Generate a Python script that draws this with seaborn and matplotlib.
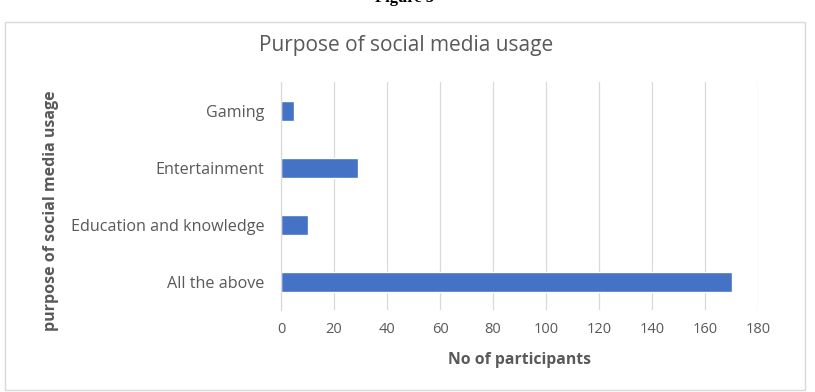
import matplotlib
matplotlib.use("Agg")
import matplotlib.pyplot as plt
import seaborn as sns
import pandas as pd
from matplotlib.patches import Rectangle

categories = ["Gaming", "Entertainment", "Education and knowledge", "All the above"]
participants = [5, 29, 10, 170]
x_ticks = [0, 20, 40, 60, 80, 100, 120, 140, 160, 180]

sns.set_theme(style="white")
plt.rcParams['font.family'] = ['Open Sans', 'DejaVu Sans']

df = pd.DataFrame({"purpose": categories, "n": participants})

fig = plt.figure(figsize=(8.15, 3.92), dpi=100)
ax = fig.add_axes([0.3448, 0.208, 0.5853, 0.5816])

sns.barplot(data=df, y="purpose", x="n", orient="h", color="#4472C4",
            width=0.35, saturation=1, ax=ax)

ax.set_xlim(0, 180)
ax.set_xticks(x_ticks)
ax.set_ylim(3.5, -0.5)
ax.xaxis.grid(True, color="#d9d9d9", linewidth=0.9)
ax.set_axisbelow(True)
for s in ["top", "right", "bottom"]:
    ax.spines[s].set_visible(False)
ax.spines["left"].set_color("#d9d9d9")
ax.spines["left"].set_linewidth(0.9)
ax.tick_params(axis="both", length=0, labelcolor="#595959")
ax.tick_params(axis="x", pad=8, labelsize=10.5)
ax.tick_params(axis="y", pad=12, labelsize=11.6)

ax.set_xlabel("No of participants", fontsize=11.3, fontweight="bold", color="#595959", labelpad=11)
ax.set_ylabel("purpose of social media usage", fontsize=11.5, fontweight="bold", color="#595959")
ax.yaxis.set_label_coords(-0.465, 0.436)

fig.text(0.498, 0.885, "Purpose of social media usage", ha="center", va="center",
         fontsize=15, color="#595959")

fig.add_artist(Rectangle((0.006, 0.005), 0.982, 0.94, transform=fig.transFigure,
                         fill=False, edgecolor="#d9d9d9", linewidth=1))
fig.text(0.497, 1.005, "Figure 5", ha="center", va="center", fontsize=12,
         fontweight="bold", family=["Liberation Serif", "DejaVu Serif"], color="black")

fig.savefig("out.png", dpi=100)
